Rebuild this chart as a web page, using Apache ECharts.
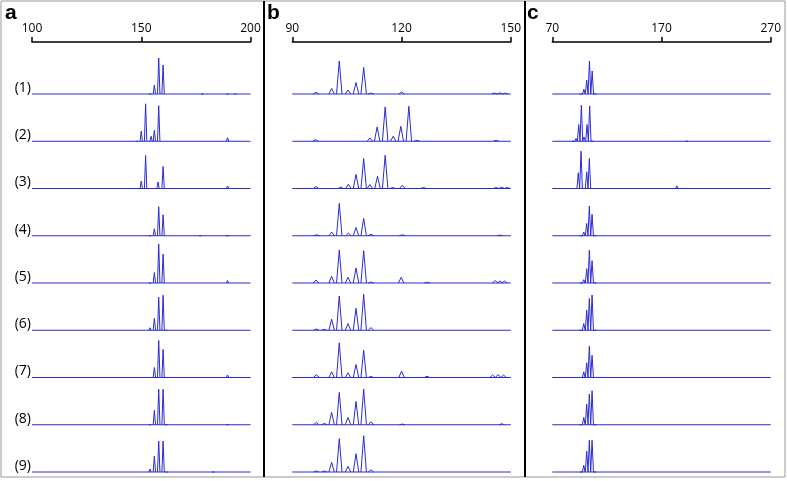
<!DOCTYPE html>
<html>
<head>
<meta charset="utf-8">
<script src="https://cdn.jsdelivr.net/npm/echarts@6/dist/echarts.min.js"></script>
<style>html,body{margin:0;padding:0;background:#fff}#c{width:787px;height:481px}</style>
</head>
<body>
<div id="c"></div>
<script>
// ---- data: peaks as [position, height(px units of a 40-unit row)] ----
const rowLabels = ['(1)','(2)','(3)','(4)','(5)','(6)','(7)','(8)','(9)'];
const panelLetters = ['a','b','c'];
const ticksA = [100,150,200];
const ticksB = [90,120,150];
const ticksC = [70,170,270];

const peaksA = [
  [[154,2],[156,9],[158,36],[160,29],[178,1],[189.5,1],[193,1]],
  [[148,2],[150,10],[152,37.5],[154.5,5],[156,11],[158,35.5],[189.5,3.5]],
  [[150,7.5],[152,33],[157.7,6.5],[160,22],[189.5,2.5]],
  [[154,1],[156,7],[158,29],[160,21],[177,1.5],[189.5,1]],
  [[154,1.5],[156,10.5],[158,39],[160,29],[189.5,2.5]],
  [[154,2.5],[156,12],[158,33],[160,35],[161.5,1.5]],
  [[111,0.7],[154,2],[156,10],[158,37],[160,28],[179,2],[189.5,2.5],[193.5,1]],
  [[154,2],[156,14.5],[158,35.5],[160,35.5],[161.5,1],[189.5,1]],
  [[154,3],[156,16],[158,31],[160,31],[161.5,1],[183,0.7]]
];
const peaksB = [
  [[96.5,1.7],[100.8,5.5],[102.9,33],[105.3,4],[107.5,11.5],[109.6,26.5],[111.6,1],[120,2],[145.5,1],[147,1.2],[148.5,1]],
  [[96.4,1.7],[111.3,3.3],[113.3,14.3],[115.5,34.3],[117.7,5],[119.8,15],[122,35],[124.2,1],[146,1]],
  [[96.5,2],[103.3,1.3],[105.4,4.3],[107.5,14],[109.6,30],[111.3,4],[113.4,12.3],[115.5,33.3],[117.6,1],[120.2,3.3],[126,1],[146,1],[147.5,1.3],[149,1]],
  [[96.7,1],[100.8,3.7],[102.9,32.3],[105.4,2.7],[107.5,8.3],[109.6,17.3],[111.6,1.5],[120.2,1],[147,0.7]],
  [[96.5,3],[100.8,6.7],[102.9,33],[105.3,5.7],[107.5,15],[109.6,32.3],[111.6,1],[119.9,5.7],[127,0.7],[145.7,2.5],[147,2],[148.3,2]],
  [[96.6,1.3],[98.8,1],[100.8,11],[102.9,34.3],[105.3,6.7],[107.5,22],[109.6,36],[111.6,2.7]],
  [[96.6,3],[100.8,5.7],[102.9,34.7],[105.3,4.7],[107.5,13],[109.6,27.3],[111.6,1],[120,6.3],[127,1.3],[145,2.5],[146.5,3],[148,2.5]],
  [[96.6,2.3],[98.8,1.3],[100.8,12.3],[102.9,32.3],[105.3,7.3],[107.5,23.3],[109.6,35.7],[111.6,3],[120.2,0.7],[147.5,1]],
  [[96.6,1],[98.8,1],[100.8,9.7],[102.9,33.3],[105.3,5.7],[107.5,18.3],[109.6,36.3],[111.6,2.3]]
];
const peaksC = [
  [[96.3,1],[98.9,4.7],[101.5,14],[104,33],[106.5,23],[109,1]],
  [[89.2,1],[91.7,2.7],[94.2,16.7],[96.6,36],[99,4.3],[101.8,16.7],[104.2,35.3],[106.6,1.5],[193,1]],
  [[89,1],[91.5,1.7],[93.8,15.7],[96.3,37.3],[99,1.7],[101.5,16.7],[103.9,30],[106.4,1],[184,2.7]],
  [[96.3,1.7],[98.8,3.7],[101.5,12.3],[103.9,29.7],[106.4,21.3],[109,0.7]],
  [[96.3,1],[98.8,3.3],[101.5,14.3],[103.9,32.7],[106.4,22.3],[109,0.7]],
  [[96.3,1],[98.8,6.7],[101.5,20],[103.9,31.7],[106.4,35.3],[109,1]],
  [[93.8,0.5],[96.3,1.3],[98.8,5.7],[101.5,14.7],[103.9,31.3],[106.4,22.3],[109,1],[193,0.7]],
  [[96.3,1],[98.8,7.3],[101.5,20.7],[103.9,30.7],[106.4,34],[109,1]],
  [[96.3,1],[98.8,6.7],[101.5,20.7],[103.9,31.7],[106.4,31.7],[109,1]]
];

// ---- layout / style ----
const panels = [
  {ticks: ticksA, peaks: peaksA, left: 32, hw: 0.55, letterX: 5},
  {ticks: ticksB, peaks: peaksB, left: 292.3, hw: 0.75, letterX: 267},
  {ticks: ticksC, peaks: peaksC, left: 552.3, hw: 1.25, letterX: 527}
];
const gridW = 218.5;
const rowH = 40;
const baseline0 = 94, rowStep = 47.25;
const lineColor = '#2a2ad2';

// each peak drawn as its own small segment, separated by gaps
function toPeaks(peaks, hw) {
  const pts = [];
  peaks.slice().sort((a,b)=>a[0]-b[0]).forEach(p => {
    pts.push([p[0]-hw, 0], [p[0], p[1]], [p[0]+hw, 0], [p[0]+hw, '-']);
  });
  return pts;
}

const grid = [], xAxis = [], yAxis = [], series = [], graphic = [];
panels.forEach((P, pi) => {
  const min = P.ticks[0], max = P.ticks[P.ticks.length-1];
  const gi = grid.length;
  grid.push({left: P.left, top: 41, width: gridW, height: 1});
  xAxis.push({
    gridIndex: gi, type: 'value', position: 'top', min, max,
    axisLine: {show: true, lineStyle: {color: '#000', width: 1.5}},
    axisTick: {show: true, length: 5, customValues: P.ticks, lineStyle: {color: '#000', width: 1.5}},
    axisLabel: {show: true, customValues: P.ticks, margin: 6, fontSize: 12, fontFamily: 'Open Sans', color: '#000'},
    splitLine: {show: false}
  });
  yAxis.push({gridIndex: gi, show: false, min: 0, max: 1});
  P.peaks.forEach((pk, ri) => {
    const base = baseline0 + ri * rowStep;
    const g = grid.length;
    grid.push({left: P.left, top: base - rowH, width: gridW, height: rowH});
    xAxis.push({gridIndex: g, type: 'value', show: false, min, max});
    yAxis.push({gridIndex: g, type: 'value', show: false, min: 0, max: rowH});
    // baseline
    series.push({
      type: 'line', xAxisIndex: g, yAxisIndex: g, data: [[min, 0], [max, 0]],
      showSymbol: false, silent: true, animation: false, clip: false,
      lineStyle: {color: lineColor, width: 1}
    });
    // peaks
    series.push({
      type: 'line', xAxisIndex: g, yAxisIndex: g, data: toPeaks(pk, P.hw),
      showSymbol: false, silent: true, animation: false, connectNulls: false, clip: false,
      lineStyle: {color: lineColor, width: 1}
    });
    if (pi === 0) {
      graphic.push({type: 'text', x: 31, y: base - 6, silent: true,
        style: {text: rowLabels[ri], font: '14px "Open Sans"', fill: '#000',
          align: 'right', verticalAlign: 'middle', textAlign: 'right', textVerticalAlign: 'middle'}});
    }
  });
  graphic.push({type: 'text', x: P.letterX, y: 13, silent: true,
    style: {text: panelLetters[pi], font: 'bold 21px "Liberation Sans"', fill: '#000',
      align: 'left', verticalAlign: 'middle', textAlign: 'left', textVerticalAlign: 'middle'}});
});
graphic.push({type: 'rect', silent: true, shape: {x: 1, y: 1, width: 784, height: 476},
  style: {fill: 'none', stroke: '#999', lineWidth: 1}});
graphic.push({type: 'line', silent: true, shape: {x1: 264, y1: 1, x2: 264, y2: 477}, style: {stroke: '#000', lineWidth: 2}});
graphic.push({type: 'line', silent: true, shape: {x1: 525, y1: 1, x2: 525, y2: 477}, style: {stroke: '#000', lineWidth: 2}});

const chart = echarts.init(document.getElementById('c'), null, {renderer: 'canvas'});
chart.setOption({animation: false, grid, xAxis, yAxis, series, graphic});
</script>
</body>
</html>
